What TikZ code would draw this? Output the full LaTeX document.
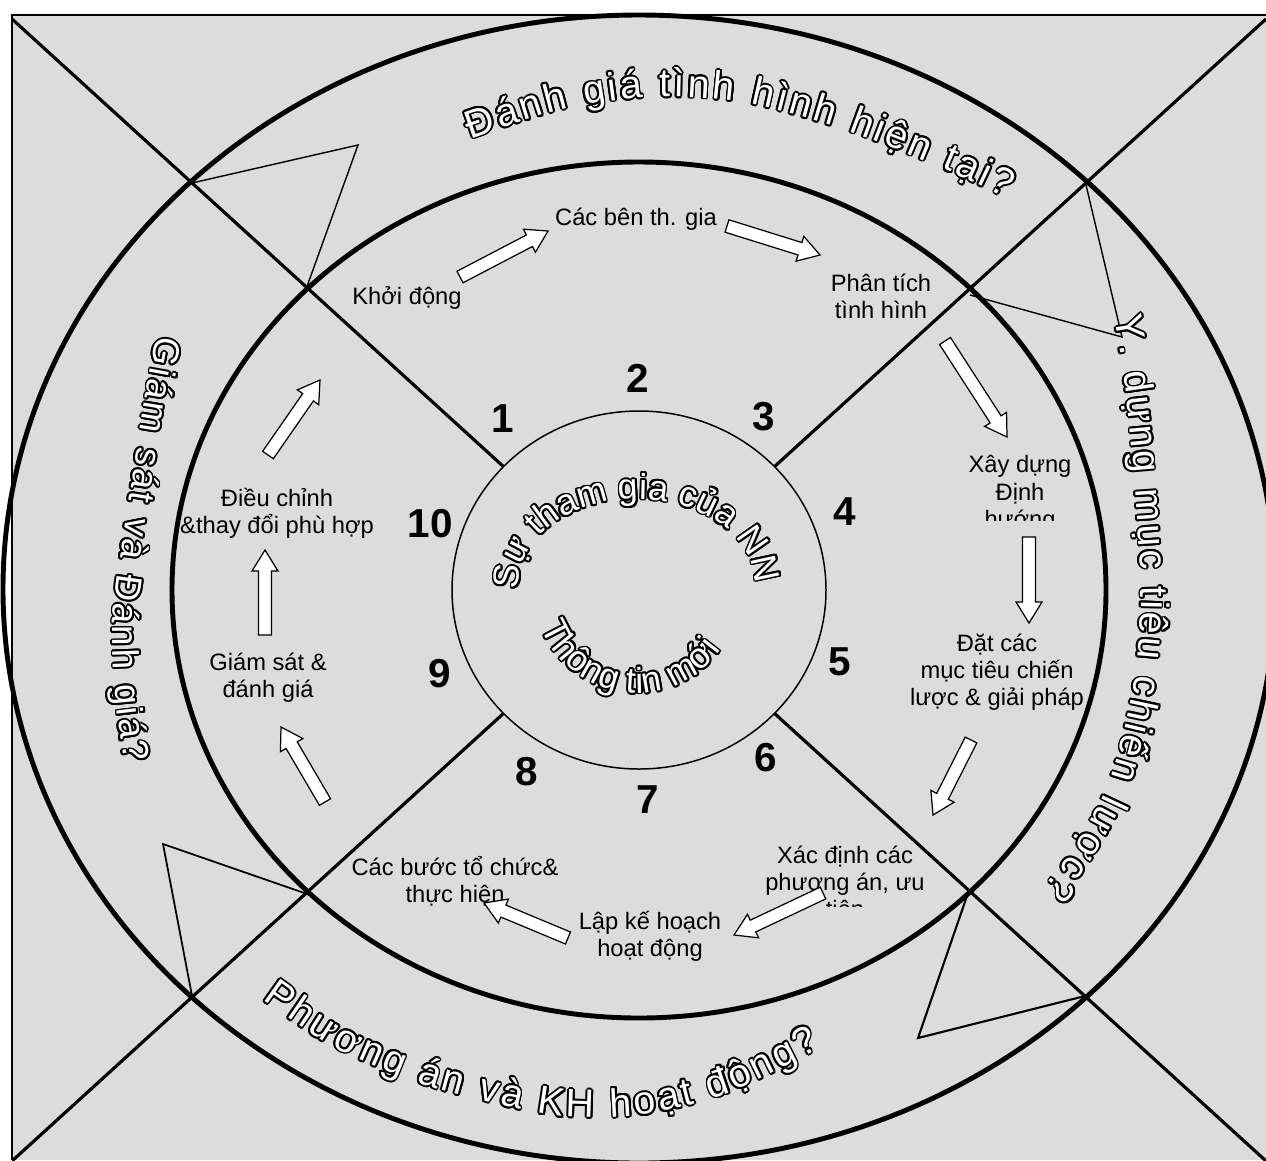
\documentclass[tikz,border=0pt]{standalone}
\usepackage{fontspec}
\setmainfont{Liberation Sans}
\usetikzlibrary{calc, decorations.text}
\definecolor{panelGray}{HTML}{DCDCDC}
\newcommand{\ringfont}{\fontsize{22.5}{22.5}\selectfont\kern1.6pt}
\newcommand{\sidefont}{\fontsize{21}{21}\selectfont\kern1.6pt}
\newcommand{\corefont}{\fontsize{20.5}{20.5}\selectfont}
\newcommand{\fatarrow}[2]{%
  \coordinate (hb) at ($(#2)!0.42cm!(#1)$);
  \draw[draw=black, fill=white, line width=0.7pt]
    ($(#1)!0.13cm!90:(#2)$) -- ($(hb)!0.13cm!90:(#2)$) -- ($(hb)!0.26cm!90:(#2)$) -- (#2)
    -- ($(hb)!0.26cm!-90:(#2)$) -- ($(hb)!0.13cm!-90:(#2)$) -- ($(#1)!0.13cm!-90:(#2)$) -- cycle;
}
\newcommand{\wordart}[4]{%
  \foreach \ox/\oy in {1.8/0,1.66/0.69,1.27/1.27,0.69/1.66,0/1.8,-0.69/1.66,-1.27/1.27,-1.66/0.69,
      -1.8/0,-1.66/-0.69,-1.27/-1.27,-0.69/-1.66,0/-1.8,0.69/-1.66,1.27/-1.27,1.66/-0.69}{%
    \path[shift={(\ox,\oy)}, decorate, decoration={text along path, text align=#4,
      text={|#2\color{black}|#3}}] #1;}
  \path[decorate, decoration={text along path, text align=#4, text={|#2\color{white}|#3}}] #1;
}
\begin{document}
\begin{tikzpicture}[x=0.02cm, y=-0.02cm,
    ring/.style={line width=2.8pt},
    cross/.style={line width=1.8pt},
    wedge/.style={line width=0.8pt},
    lbl/.style={font=\fontsize{13.5}{15.5}\selectfont, align=center, inner sep=0pt},
    num/.style={font=\fontsize{23}{23}\selectfont\bfseries, inner sep=0pt}]
  \useasboundingbox (0,0) rectangle (1266,1160);
  \fill[white] (0,0) rectangle (1266,1160);
  \fill[panelGray] (12,15) rectangle (1266,1160);
  \draw[line width=0.6pt] (1266,15) -- (12,15) -- (12,1160);
  % the cross
  \begin{scope}
    \clip (12,15) rectangle (1266,1160);
    \draw[cross] (12,19) -- (1266,1161);
    \draw[cross] (1266,19) -- (12,1161);
  \end{scope}
  % wedges between the rings
  \coordinate (tlO) at (192,183); \coordinate (tlM) at (305,292); \coordinate (tlP) at (358,145);
  \coordinate (trO) at (1086,185); \coordinate (trM) at (970,295); \coordinate (trP) at (1122,337);
  \coordinate (brO) at (1085,996); \coordinate (brM) at (968,893); \coordinate (brP) at (918,1038);
  \coordinate (blO) at (193,1001); \coordinate (blM) at (313,896); \coordinate (blP) at (163,844);
  \draw[wedge] (tlO) -- (tlP) -- (tlM);
  \draw[wedge] (trO) -- (trP) -- (trM);
  \draw[line width=1.2pt] (brM) -- (brP) -- (brO);
  \draw[line width=1pt] (blM) -- (blP) -- (blO);
  \draw[ring] (639,589) ellipse [x radius=636, y radius=574];
  \draw[ring] (639,590) ellipse [x radius=467, y radius=428];
  \filldraw[fill=panelGray, line width=0.85pt] (639,590) ellipse [x radius=187, y radius=179];
  % steps
  \node[lbl] (khoi) at (407,298) {Khởi động};
  \node[lbl] (caben) at (636,219) {Các bên th. gia};
  \node[lbl] (phantich) at (881,296) {Phân tích\\tình hình};
  \begin{scope}
    \clip (930,440) rectangle (1110,520);
    \node[lbl] (xaydung) at (1020,494) {Xây dựng\\Định\\hướng};
  \end{scope}
  \node[lbl] (datcac) at (997,672) {Đặt các\\mục tiêu chiến\\lược \& giải pháp};
  \begin{scope}
    \clip (750,830) rectangle (940,906);
    \node[lbl] (xacdinh) at (845,882) {Xác định các\\phương án, ưu\\tiên};
  \end{scope}
  \node[lbl] (lapke) at (650,936) {Lập kế hoạch\\hoạt động};
  \node[lbl] (cacbuoc) at (455,881) {Các bước tổ chức\&\\thực hiện};
  \node[lbl] (giamsat) at (268,678) {Giám sát \&\\đánh giá};
  \node[lbl] (dieuchinh) at (277,513) {Điều chỉnh\\\&thay đổi phù hợp};
  \node[num] (n1) at (503,419) {1};
  \node[num] (n2) at (638,378) {2};
  \node[num] (n3) at (764,417) {3};
  \node[num] (n4) at (845,512) {4};
  \node[num] (n5) at (840,662) {5};
  \node[num] (n6) at (766,758) {6};
  \node[num] (n7) at (648,800) {7};
  \node[num] (n8) at (527,772) {8};
  \node[num] (n9) at (440,674) {9};
  \node[num] (n10) at (430,524) {10};
  % block arrows
  \coordinate (a1t) at (460,277);  \coordinate (a1h) at (548,231);
  \coordinate (a2t) at (727,226);  \coordinate (a2h) at (820,255);
  \coordinate (a3t) at (945,341);  \coordinate (a3h) at (1007,437);
  \coordinate (a4t) at (1029,537); \coordinate (a4h) at (1029,623);
  \coordinate (a5t) at (971,740);  \coordinate (a5h) at (933,815);
  \coordinate (a6t) at (823,893);  \coordinate (a6h) at (734,935);
  \coordinate (a7t) at (568,938);  \coordinate (a7h) at (484,903);
  \coordinate (a8t) at (325,802);  \coordinate (a8h) at (281,727);
  \coordinate (a9t) at (265,635);  \coordinate (a9h) at (265,550);
  \coordinate (a10t) at (268,455); \coordinate (a10h) at (320,380);
  \fatarrow{a1t}{a1h} \fatarrow{a2t}{a2h} \fatarrow{a3t}{a3h} \fatarrow{a4t}{a4h}
  \fatarrow{a5t}{a5h} \fatarrow{a6t}{a6h} \fatarrow{a7t}{a7h} \fatarrow{a8t}{a8h}
  \fatarrow{a9t}{a9h} \fatarrow{a10t}{a10h}
  % curved titles
  \wordart{plot[smooth] coordinates {(468,140) (560,110) (650,97) (740,102) (830,125) (910,155) (1000,195) (1080,245) (1150,310)}}
    {\ringfont}{Đánh giá tình hình hiện tại?}{left}
  \wordart{plot[smooth] coordinates {(1114,314) (1127,400) (1136,500) (1141,600) (1133,690) (1110,780) (1076,845) (1038,895) (1000,935) (960,970) (915,1000)}}
    {\ringfont}{Y. dựng mục tiêu chiến lược?}{left}
  \wordart{plot[smooth] coordinates {(260,998) (330,1045) (410,1080) (480,1100) (560,1116) (640,1115) (720,1096) (790,1064) (850,1030) (890,1000) (930,965) (965,925)}}
    {\ringfont}{Phương án và KH hoạt động?}{left}
  \wordart{plot[smooth] coordinates {(157,333) (144,405) (133,475) (122,545) (113,615) (115,690) (126,770) (145,840) (170,910) (200,975)}}
    {\sidefont}{Giám sát và Đánh giá?}{left}
  \wordart{plot[domain=160:376, samples=110] ({637+118*cos(\x)},{584+85*sin(\x)})}
    {\corefont}{Sự tham gia của NN}{center}
  \wordart{plot[domain=172:22, samples=90] ({637+103*cos(\x)},{590+103*sin(\x)})}
    {\corefont}{Thông tin mới}{center}
\end{tikzpicture}
\end{document}
